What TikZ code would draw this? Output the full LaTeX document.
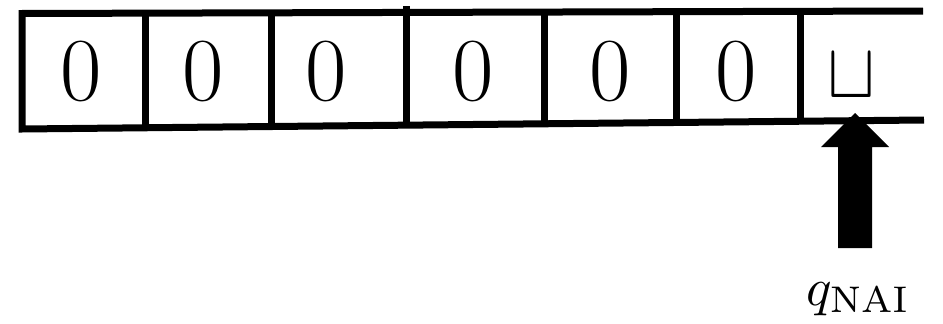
\documentclass[tikz,border=0pt]{standalone}
\usepackage{graphicx}
\begin{document}
\begin{tikzpicture}[x=1pt,y=-1pt,
  tape/.style={line width=7pt, line join=miter},
  divider/.style={line width=7pt},
  digit/.style={font=\fontsize{90}{96}\selectfont, inner sep=0pt},
  headarrow/.style={fill=black, draw=none}]
\useasboundingbox (0,0) rectangle (943,324);
% tape outline (open on the right)
\coordinate (tl) at (22,13.5);
\coordinate (tr) at (923,11);
\coordinate (bl) at (22,129);
\coordinate (br) at (924,120);
\draw[tape] (tr) -- (tl) -- (bl) -- (br);
% cell dividers
\draw[divider] (145,13.2) -- (145,127.8);
\draw[divider] (271,12.8) -- (271,126.5);
\draw[divider] (406,6) -- (406,125.2);
\draw[divider] (544,12.0) -- (544,123.8);
\draw[divider] (676,11.7) -- (676,126);
\draw[divider] (800,11.3) -- (800,124);
% cell contents
\node[digit] (c1) at (81,71) {0};
\node[digit] (c2) at (203,71) {0};
\node[digit] (c3) at (326,71) {0};
\node[digit] (c4) at (473,71) {0};
\node[digit] (c5) at (610,71) {0};
\node[digit] (c6) at (736,71) {0};
\node[inner sep=0pt] (c7) at (851,76) {\scalebox{7.2}[7.8]{$\sqcup$}};
% head arrow
\fill[headarrow] (855,113) -- (889,147) -- (872,147) -- (872,248) -- (838,248) -- (838,147) -- (821,147) -- cycle;
% state label
\node[anchor=base west, inner sep=0pt] (lbl) at (806,305) {\scalebox{5.3}{$q_{\mathrm{NAI}}$}};
\end{tikzpicture}
\end{document}
